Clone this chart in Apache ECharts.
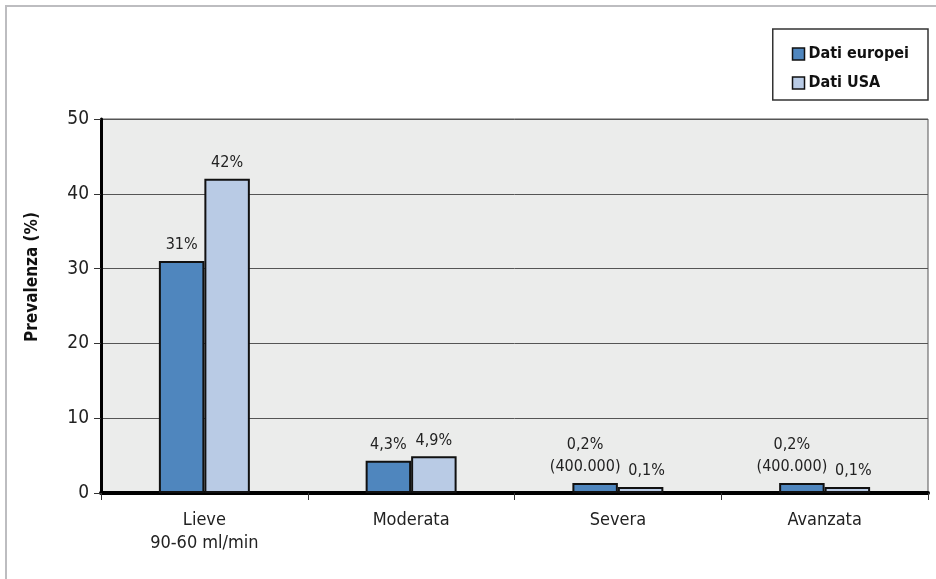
<!DOCTYPE html>
<html>
<head>
<meta charset="utf-8">
<script src="https://cdn.jsdelivr.net/npm/echarts@6/dist/echarts.min.js"></script>
<style>
  html, body { margin: 0; padding: 0; background: #ffffff; }
  #chart { width: 936px; height: 579px; }
</style>
</head>
<body>
<div id="chart"></div>
<script>
// Stadi dell'insufficienza renale cronica
const categories = ['Lieve\n90-60 ml/min', 'Moderata', 'Severa', 'Avanzata'];
const euValues = [31, 4.3, 0.2, 0.2];
const usValues = [42, 4.9, 0.1, 0.1];
const euLabels = ['31%', '4,3%', '0,2%\n(400.000)', '0,2%\n(400.000)'];
const usLabels = ['42%', '4,9%', '0,1%', '0,1%'];
const yTicks = [0, 10, 20, 30, 40, 50];

const FONT = '"Liberation Sans Narrow", "DejaVu Sans Condensed", "Roboto", sans-serif';
const BLUE = '#4f86be';
const LIGHT = '#b9cbe5';

const chart = echarts.init(document.getElementById('chart'), null, { renderer: 'canvas' });

const labelStyle = {
  show: true,
  position: 'top',
  distance: 5,
  color: '#222',
  fontFamily: FONT,
  fontSize: 16,
  lineHeight: 22
};

// Two-line labels sit a little to the left, single-line ones next to them a little to the right,
// so the pair over the tiny bars does not collide.
function barData(values, texts, shift) {
  return values.map((v, i) => ({
    value: v,
    label: {
      formatter: texts[i],
      offset: [v < 1 ? shift : 0, 0]
    }
  }));
}

chart.setOption({
  animation: false,
  backgroundColor: '#ffffff',
  textStyle: { fontFamily: FONT },
  graphic: [{
    type: 'rect',
    silent: true,
    z: -10,
    shape: { x: 6, y: 6, width: 960, height: 600 },
    style: { fill: 'none', stroke: '#bdbdc0', lineWidth: 2 }
  }],
  grid: {
    left: 101, right: 8, top: 119, bottom: 86,
    show: true,
    backgroundColor: '#ebeceb',
    borderColor: '#555',
    borderWidth: 1
  },
  legend: {
    orient: 'vertical',
    right: 8,
    top: 29,
    backgroundColor: '#ffffff',
    borderColor: '#333',
    borderWidth: 1.5,
    padding: [17, 19, 9, 19],
    itemGap: 13,
    itemWidth: 12,
    itemHeight: 12,
    icon: 'rect',
    itemStyle: { borderColor: '#111', borderWidth: 1.5 },
    textStyle: { fontFamily: FONT, fontSize: 16, fontWeight: 'bold', color: '#111', padding: [0, 0, 0, -1] },
    data: ['Dati europei', 'Dati USA']
  },
  xAxis: {
    type: 'category',
    data: categories,
    axisLine: { show: true, lineStyle: { color: '#000', width: 4 } },
    axisTick: { show: true, length: 7, lineStyle: { color: '#333', width: 1 } },
    axisLabel: { color: '#222', fontFamily: FONT, fontSize: 18, lineHeight: 23, margin: 16 },
    splitLine: { show: false }
  },
  yAxis: {
    type: 'value',
    min: yTicks[0],
    max: yTicks[yTicks.length - 1],
    interval: 10,
    name: 'Prevalenza (%)',
    nameLocation: 'middle',
    nameRotate: 90,
    nameGap: 60,
    nameTextStyle: { color: '#111', fontFamily: FONT, fontSize: 17, fontWeight: 'bold', padding: [0, 0, 0, 58] },
    axisLine: { show: true, lineStyle: { color: '#000', width: 3 } },
    axisTick: { show: true, length: 7, lineStyle: { color: '#333', width: 1 } },
    axisLabel: { color: '#222', fontFamily: FONT, fontSize: 19, margin: 12 },
    splitLine: { show: true, lineStyle: { color: '#555', width: 1 } }
  },
  series: [
    {
      name: 'Dati europei',
      type: 'bar',
      data: barData(euValues, euLabels, -10),
      barGap: '0%',
      barCategoryGap: '56%',
      barMinHeight: 10,
      itemStyle: { color: BLUE, borderColor: '#111', borderWidth: 2 },
      label: labelStyle
    },
    {
      name: 'Dati USA',
      type: 'bar',
      data: barData(usValues, usLabels, 6),
      barMinHeight: 6,
      itemStyle: { color: LIGHT, borderColor: '#111', borderWidth: 2 },
      label: labelStyle
    }
  ]
});
</script>
</body>
</html>
